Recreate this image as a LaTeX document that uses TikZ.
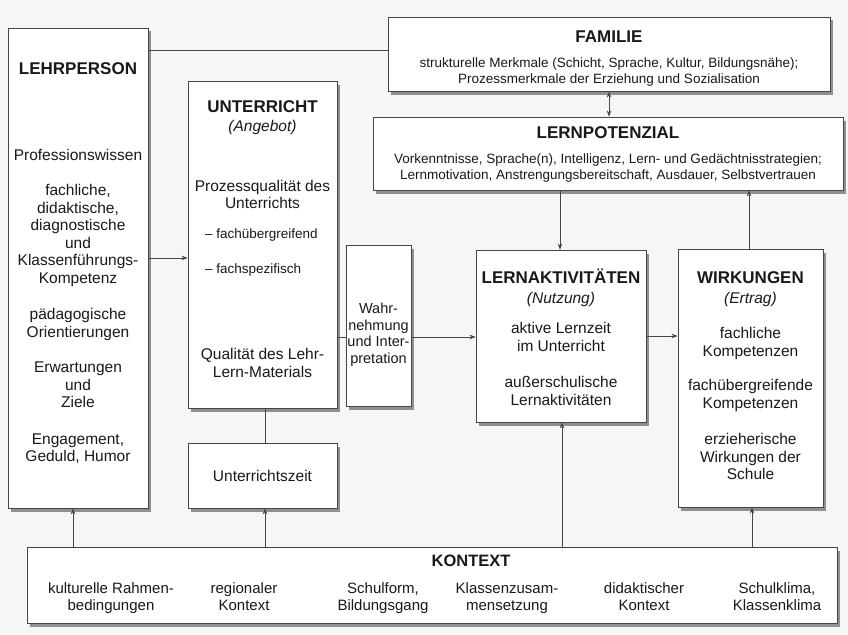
\documentclass[tikz,border=0pt]{standalone}
\usepackage{fontspec}
\setmainfont{Liberation Sans}
\usetikzlibrary{shadows,arrows.meta}
\definecolor{bg}{RGB}{246,246,246}
\definecolor{ink}{RGB}{25,25,25}
\definecolor{edge}{RGB}{70,70,70}
\begin{document}
\begin{tikzpicture}[x=1pt,y=-1pt,
  box/.style={draw=edge, line width=0.8pt, fill=white, inner sep=0pt,
    drop shadow={shadow xshift=3pt, shadow yshift=-3.5pt, opacity=0.7, fill=black!60}},
  txt/.style={align=center, inner sep=0pt, text=ink, font=\fontsize{15.5}{17.5}\selectfont,
    yshift=-2.5pt, execute at begin node=\strut, execute at end node=\strut},
  head/.style={txt, font=\fontsize{17}{20}\selectfont\bfseries},
  sub/.style={txt, font=\fontsize{15.5}{17.5}\selectfont\itshape},
  smalltxt/.style={txt, font=\fontsize{13.5}{15.5}\selectfont},
  wtxt/.style={txt, font=\fontsize{14.5}{16.5}\selectfont},
  ktxt/.style={txt, font=\fontsize{15}{17}\selectfont},
  ln/.style={draw=edge, line width=0.7pt},
  arr/.style={ln, -{Stealth[length=6pt,width=4.5pt]}},
  darr/.style={ln, {Stealth[length=6pt,width=4.5pt]}-{Stealth[length=6pt,width=4.5pt]}}
]
\fill[bg] (0,0) rectangle (848,634);
\useasboundingbox (0,0) rectangle (848,634);

% boxes
\node[box, minimum width=140pt, minimum height=480pt] (lehr) at (78,268) {};
\node[box, minimum width=149pt, minimum height=327pt] (unt) at (262.5,244.5) {};
\node[box, minimum width=65pt, minimum height=161pt] (wahr) at (378.5,325.5) {};
\node[box, minimum width=149pt, minimum height=65pt] (uzeit) at (262.5,475.5) {};
\node[box, minimum width=442pt, minimum height=74pt] (fam) at (609,54) {};
\node[box, minimum width=470pt, minimum height=73pt] (pot) at (608,153.5) {};
\node[box, minimum width=170pt, minimum height=172pt] (akt) at (561,336) {};
\node[box, minimum width=145pt, minimum height=258pt] (wirk) at (750.5,378) {};
\node[box, minimum width=810pt, minimum height=76pt] (kon) at (432,585) {};

% LEHRPERSON
\node[head] (lh) at (78,68) {LEHRPERSON};
\node[txt] (l1) at (78,154) {Professionswissen};
\node[txt] (l2) at (78,234) {fachliche,\\didaktische,\\diagnostische\\und\\Klassenführungs-\\Kompetenz};
\node[txt] (l3) at (78,323) {pädagogische\\Orientierungen};
\node[txt] (l4) at (78,385) {Erwartungen\\und\\Ziele};
\node[txt] (l5) at (78,448) {Engagement,\\Geduld, Humor};

% UNTERRICHT
\node[head] (uh) at (262.5,106) {UNTERRICHT};
\node[sub] (us) at (262.5,125) {(Angebot)};
\node[txt] (u1) at (262.5,194.5) {Prozessqualität des\\Unterrichts};
\node[smalltxt, anchor=west] (u2) at (205,233) {– fachübergreifend};
\node[smalltxt, anchor=west] (u3) at (205,268) {– fachspezifisch};
\node[txt] (u4) at (262.5,363) {Qualität des Lehr-\\Lern-Materials};
\node[txt] (uz) at (262.5,475) {Unterrichtszeit};

% Wahrnehmung
\node[wtxt] (w1) at (378.5,333) {Wahr-\\nehmung\\und Inter-\\pretation};

% FAMILIE
\node[head] (fh) at (609,36) {FAMILIE};
\node[smalltxt] (f1) at (609,70.5) {strukturelle Merkmale (Schicht, Sprache, Kultur, Bildungsnähe);\\Prozessmerkmale der Erziehung und Sozialisation};

% LERNPOTENZIAL
\node[head] (ph) at (608,132) {LERNPOTENZIAL};
\node[smalltxt] (p1) at (608,166.5) {Vorkenntnisse, Sprache(n), Intelligenz, Lern- und Gedächtnisstrategien;\\Lernmotivation, Anstrengungsbereitschaft, Ausdauer, Selbstvertrauen};

% LERNAKTIVITAETEN
\node[head] (ah) at (561,277) {LERNAKTIVITÄTEN};
\node[sub] (as) at (561,297) {(Nutzung)};
\node[txt] (a1) at (561,337) {aktive Lernzeit\\im Unterricht};
\node[txt] (a2) at (561,391) {außerschulische\\Lernaktivitäten};

% WIRKUNGEN
\node[head] (wh) at (750.5,277) {WIRKUNGEN};
\node[sub] (ws) at (750.5,297) {(Ertrag)};
\node[txt] (wk1) at (750.5,342) {fachliche\\Kompetenzen};
\node[txt] (wk2) at (750.5,394) {fachübergreifende\\Kompetenzen};
\node[txt] (wk3) at (750.5,457) {erzieherische\\Wirkungen der\\Schule};

% KONTEXT
\node[head, font=\fontsize{16.5}{20}\selectfont\bfseries] (kh) at (471,560) {KONTEXT};
\node[ktxt] (k1) at (111,596.5) {kulturelle Rahmen-\\bedingungen};
\node[ktxt] (k2) at (244,596.5) {regionaler\\Kontext};
\node[ktxt] (k3) at (383,596.5) {Schulform,\\Bildungsgang};
\node[ktxt] (k4) at (507,596.5) {Klassenzusam-\\mensetzung};
\node[ktxt] (k5) at (644,596.5) {didaktischer\\Kontext};
\node[ktxt] (k6) at (777,596.5) {Schulklima,\\Klassenklima};

% connectors
\draw[ln] (lehr.east |- 0,50) -- (fam.west |- 0,50);
\draw[arr] (lehr.east |- 0,258) -- (unt.west |- 0,258);
\draw[ln] (unt.east |- 0,337) -- (wahr.west |- 0,337);
\draw[arr] (wahr.east |- 0,337) -- (akt.west |- 0,337);
\draw[ln] (unt.south -| 265,0) -- (uzeit.north -| 265,0);
\draw[darr] (fam.south -| 609,0) -- (pot.north -| 609,0);
\draw[arr] (pot.south -| 560,0) -- (akt.north -| 560,0);
\draw[arr] (wirk.north -| 749,0) -- (pot.south -| 749,0);
\draw[arr] (akt.east |- 0,336) -- (wirk.west |- 0,336);
\draw[arr] (kon.north -| 73,0) -- (lehr.south -| 73,0);
\draw[arr] (kon.north -| 265,0) -- (uzeit.south -| 265,0);
\draw[arr] (kon.north -| 562,0) -- (akt.south -| 562,0);
\draw[arr] (kon.north -| 752,0) -- (wirk.south -| 752,0);
\end{tikzpicture}
\end{document}
